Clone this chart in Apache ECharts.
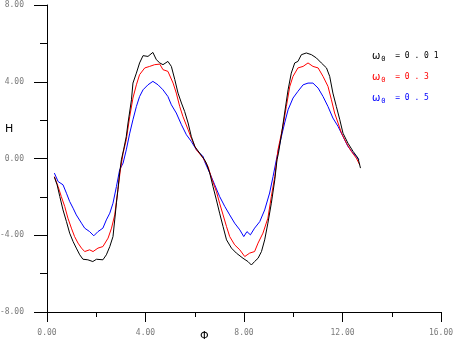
<!DOCTYPE html>
<html>
<head>
<meta charset="utf-8">
<script src="https://cdn.jsdelivr.net/npm/echarts@6/dist/echarts.min.js"></script>
<style>
  html, body { margin: 0; padding: 0; background: #fff; }
  #chart { width: 457px; height: 343px; }
</style>
</head>
<body>
<div id="chart"></div>
<script>
// Phase Φ and response H for three values of ω0
const phi001 = [0.30,0.41,0.52,0.65,0.79,0.92,1.06,1.19,1.33,1.46,1.66,1.86,2.01,2.27,2.41,2.55,2.68,2.75,2.82,2.88,2.95,3.02,3.11,3.22,3.29,3.43,3.49,3.63,3.76,3.90,4.10,4.30,4.44,4.58,4.71,4.91,5.05,5.19,5.32,5.46,5.59,5.73,5.86,6.00,6.20,6.40,6.47,6.61,6.74,6.88,7.01,7.15,7.29,7.49,7.69,7.96,8.16,8.30,8.43,8.57,8.71,8.84,8.97,9.11,9.25,9.34,9.40,9.53,9.65,9.79,9.92,10.06,10.19,10.33,10.53,10.74,10.94,11.14,11.35,11.48,11.61,11.75,11.89,12.02,12.22,12.43,12.63,12.73];
const h001 = [-0.97,-1.37,-1.98,-2.68,-3.29,-3.89,-4.33,-4.67,-5.02,-5.25,-5.28,-5.37,-5.25,-5.28,-5.02,-4.59,-4.07,-3.20,-2.31,-1.63,-0.75,-0.07,0.45,1.15,1.85,3.06,3.93,4.45,4.98,5.36,5.32,5.53,5.15,4.98,4.89,5.06,4.80,4.11,3.41,2.89,2.45,1.85,1.15,0.63,0.28,-0.07,-0.24,-0.76,-1.46,-2.16,-2.85,-3.55,-4.24,-4.67,-4.93,-5.20,-5.37,-5.55,-5.37,-5.20,-4.85,-4.24,-3.37,-2.33,-1.11,-0.07,0.28,1.32,2.37,3.58,4.45,4.98,5.06,5.41,5.50,5.41,5.24,4.98,4.72,4.28,3.41,2.71,2.02,1.32,0.80,0.37,0.02,-0.50];

const phi03 = [0.30,0.45,0.58,0.72,0.85,0.99,1.12,1.26,1.40,1.53,1.73,1.87,2.07,2.27,2.48,2.62,2.75,2.88,2.98,3.09,3.22,3.36,3.49,3.63,3.76,3.97,4.17,4.37,4.58,4.71,4.91,5.12,5.25,5.39,5.52,5.73,5.86,6.07,6.34,6.54,6.68,6.88,7.01,7.15,7.29,7.42,7.62,7.83,8.03,8.23,8.43,8.57,8.77,8.97,9.11,9.25,9.38,9.58,9.72,9.86,9.99,10.19,10.40,10.60,10.80,11.01,11.21,11.41,11.55,11.68,11.82,11.96,12.16,12.36,12.56,12.70];
const h03 = [-0.94,-1.46,-1.98,-2.50,-3.11,-3.63,-4.07,-4.41,-4.67,-4.85,-4.76,-4.85,-4.67,-4.59,-4.15,-3.63,-2.94,-1.63,-0.59,0.28,0.98,2.19,3.15,3.84,4.37,4.72,4.80,4.89,4.92,4.63,4.54,3.93,3.41,2.71,2.19,1.50,1.06,0.45,0.02,-0.42,-1.02,-1.72,-2.33,-2.94,-3.55,-4.07,-4.50,-4.76,-5.11,-4.93,-4.85,-4.41,-3.89,-3.11,-1.98,-0.94,0.45,1.67,2.71,3.76,4.28,4.72,4.80,4.98,4.80,4.72,4.28,3.76,3.06,2.37,1.85,1.32,0.80,0.37,0.02,-0.33];

const phi05 = [0.30,0.45,0.65,0.79,0.92,1.06,1.19,1.40,1.53,1.73,1.90,2.07,2.27,2.41,2.55,2.68,2.82,2.95,3.09,3.22,3.36,3.49,3.63,3.76,3.90,4.10,4.30,4.51,4.71,4.91,5.05,5.25,5.46,5.66,5.86,6.07,6.34,6.40,6.61,6.81,7.01,7.22,7.42,7.62,7.83,7.99,8.12,8.26,8.43,8.64,8.84,9.04,9.18,9.34,9.52,9.65,9.79,9.99,10.19,10.40,10.60,10.80,11.01,11.21,11.41,11.61,11.82,12.02,12.22,12.43,12.67];
const h05 = [-0.76,-1.20,-1.37,-1.81,-2.24,-2.59,-2.94,-3.37,-3.63,-3.81,-4.03,-3.81,-3.63,-3.20,-2.85,-2.33,-1.46,-0.59,-0.24,0.45,1.32,2.02,2.71,3.23,3.58,3.84,4.02,3.84,3.58,3.23,2.80,2.37,1.76,1.24,0.89,0.45,0.10,-0.16,-0.76,-1.37,-1.98,-2.50,-2.94,-3.37,-3.72,-4.07,-3.81,-3.98,-3.63,-3.29,-2.68,-1.80,-0.94,0.10,1.15,1.85,2.54,3.15,3.50,3.84,3.93,3.93,3.67,3.23,2.71,2.11,1.67,1.15,0.63,0.28,-0.07];

const omegaValues = ['0.01', '0.3', '0.5'];
const seriesColors = ['#000000', '#ff0000', '#0000ff'];
const xTicks = { min: 0, max: 16, step: 4 };
const yTicks = { min: -8, max: 8, step: 4 };

const pairs = (xs, ys) => xs.map((x, i) => [x, ys[i]]);
const curves = [pairs(phi001, h001), pairs(phi03, h03), pairs(phi05, h05)];

const chart = echarts.init(document.getElementById('chart'), null, { renderer: 'canvas' });

const tickFont = { fontFamily: 'DejaVu Sans Mono', fontSize: 8, color: '#7a7a7a' };

const legendItems = omegaValues.map((v, i) => ({
  type: 'text',
  left: 372,
  top: 51 + i * 21,
  style: {
    text: '{w|ω}{s|0}{v|  ' + ('= ' + v.split('').join(' ')) + '}',
    rich: {
      w: { fontFamily: 'DejaVu Sans', fontSize: 10, fill: seriesColors[i] },
      s: { fontFamily: 'DejaVu Sans Mono', fontSize: 7, fill: seriesColors[i], padding: [6, 0, 0, 1] },
      v: { fontFamily: 'DejaVu Sans Mono', fontSize: 8, fill: seriesColors[i] }
    }
  }
}));

chart.setOption({
  animation: false,
  backgroundColor: '#ffffff',
  grid: { left: 47, right: 16, top: 5, bottom: 31, containLabel: false, outerBoundsMode: 'none' },
  xAxis: {
    type: 'value',
    min: xTicks.min, max: xTicks.max, interval: xTicks.step,
    axisLine: { show: true, onZero: false, lineStyle: { color: '#000', width: 1 } },
    axisTick: { show: true, length: 10, lineStyle: { color: '#000' } },
    minorTick: { show: true, splitNumber: 2, length: 5, lineStyle: { color: '#000' } },
    splitLine: { show: false },
    axisLabel: Object.assign({ margin: 17, formatter: v => v.toFixed(2) }, tickFont)
  },
  yAxis: {
    type: 'value',
    min: yTicks.min, max: yTicks.max, interval: yTicks.step,
    axisLine: { show: true, onZero: false, lineStyle: { color: '#000', width: 1 } },
    axisTick: { show: true, length: 13, lineStyle: { color: '#000' } },
    minorTick: { show: true, splitNumber: 2, length: 7, lineStyle: { color: '#000' } },
    splitLine: { show: false },
    axisLabel: Object.assign({ margin: 23, formatter: v => v.toFixed(2) }, tickFont)
  },
  series: curves.map((c, i) => ({
    type: 'line',
    data: c,
    showSymbol: false,
    smooth: false,
    lineStyle: { color: seriesColors[i], width: 1 },
    itemStyle: { color: seriesColors[i] },
    z: 3 - i
  })),
  graphic: [
    {
      type: 'text', left: 5, top: 124,
      style: { text: 'H', fontFamily: 'DejaVu Sans', fontSize: 11, fill: '#000' }
    },
    {
      type: 'text', left: 200, top: 331,
      style: { text: 'Φ', fontFamily: 'DejaVu Sans', fontSize: 11, fill: '#000' }
    }
  ].concat(legendItems)
});
</script>
</body>
</html>
